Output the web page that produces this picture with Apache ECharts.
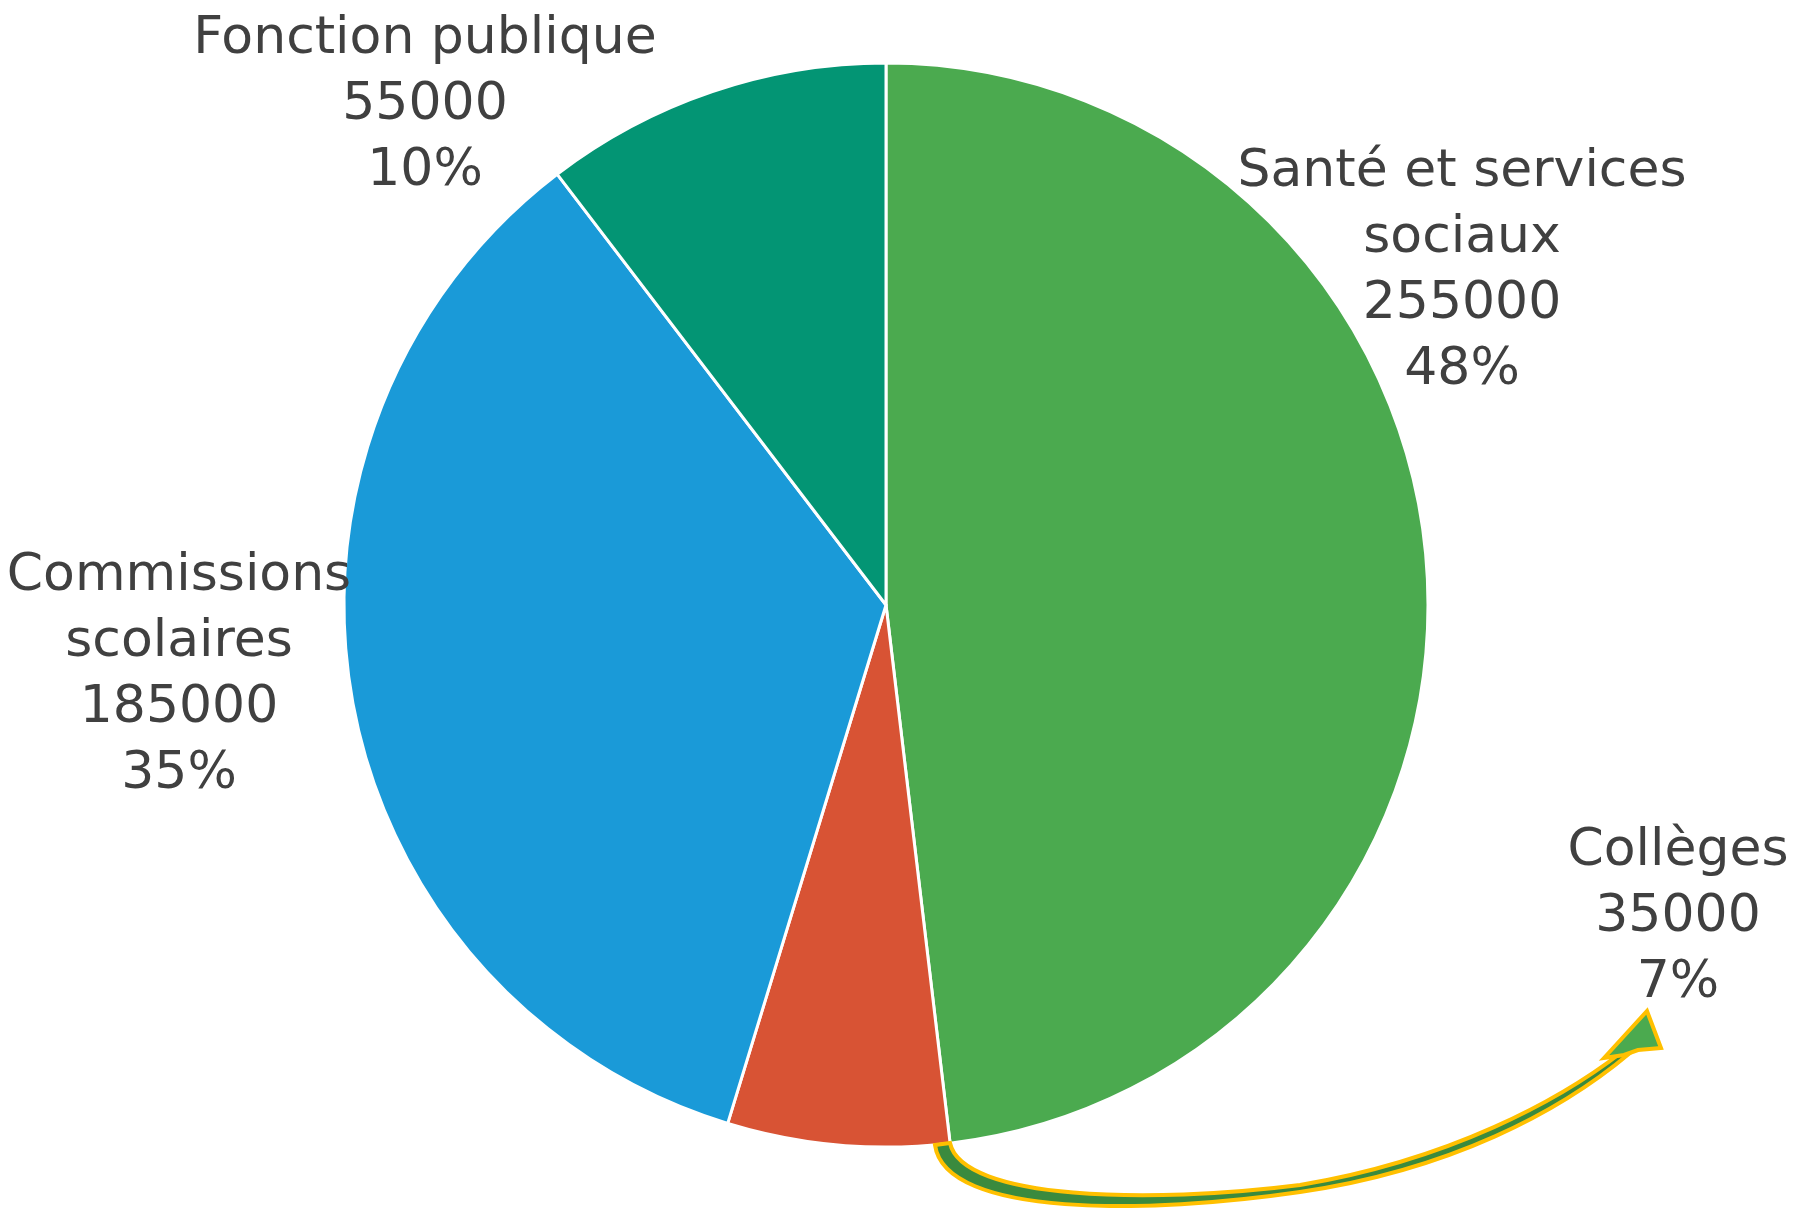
<!DOCTYPE html>
<html>
<head>
<meta charset="utf-8">
<title>Répartition</title>
<script src="https://cdn.jsdelivr.net/npm/echarts@6/dist/echarts.min.js"></script>
<style>
  html, body { margin: 0; padding: 0; background: #ffffff; }
  #main { width: 1799px; height: 1208px; }
</style>
</head>
<body>
<div id="main"></div>
<script>
// données du graphique
const categories = ['Santé et services\nsociaux', 'Collèges', 'Commissions\nscolaires', 'Fonction publique']
const values = [255000, 35000, 185000, 55000]
const colors = ['#4BAA4F', '#D85334', '#1A9AD8', '#039574']
// position (centre) de chaque étiquette, comme sur l'original
const labelPos = [[1462, 271], [1678, 917], [179, 675], [425, 105]]

const chart = echarts.init(document.getElementById('main'))

// flèche courbe qui relie la part « Collèges » à son étiquette
const renderArrow = function () {
  return {
    type: 'group',
    children: [
      {
        type: 'path',
        shape: {
          pathData: 'M 935 1145 C 945 1218 1150 1214 1300 1192 C 1450 1170 1560 1112 1630 1053 ' +
                    'L 1622 1052 C 1560 1100 1450 1160 1300 1185 C 1150 1204 962 1200 950 1143 Z'
        },
        style: { fill: '#3A8A3E', stroke: '#FFC000', lineWidth: 4 }
      },
      {
        type: 'polygon',
        shape: {
          points: [[1604, 1058], [1647, 1011], [1661, 1048], [1638, 1050], [1624, 1055]]
        },
        style: { fill: '#4BAA4F', stroke: '#FFC000', lineWidth: 4 }
      }
    ]
  }
}

const option = {
  animation: false,
  series: [
    {
      type: 'pie',
      center: [886, 605],
      radius: 542,
      startAngle: 90,
      clockwise: true,
      percentPrecision: 0,
      itemStyle: {
        borderColor: '#ffffff',
        borderWidth: 3
      },
      label: {
        show: true,
        position: 'outside',
        alignTo: 'none',
        overflow: 'none',
        formatter: '{b}\n{c}\n{d}%',
        fontFamily: '"DejaVu Sans", sans-serif',
        fontSize: 52,
        lineHeight: 66,
        color: '#404040',
        align: 'center'
      },
      labelLine: { show: false },
      labelLayout: function (params) {
        const p = labelPos[params.dataIndex]
        return { x: p[0], y: p[1], align: 'center', verticalAlign: 'middle' }
      },
      data: categories.map((name, i) => ({
        name: name,
        value: values[i],
        itemStyle: { color: colors[i] }
      }))
    },
    {
      type: 'custom',
      coordinateSystem: 'none',
      silent: true,
      z: 5,
      data: [0],
      renderItem: renderArrow
    }
  ]
}

chart.setOption(option)
</script>
</body>
</html>
